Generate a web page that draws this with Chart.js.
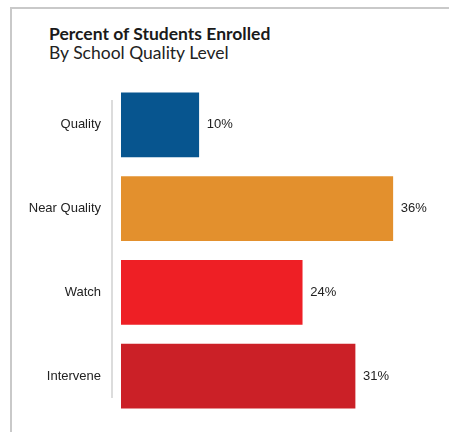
<!DOCTYPE html>
<html lang="en">
<head>
<meta charset="UTF-8">
<title>Percent of Students Enrolled</title>
<script src="https://cdn.jsdelivr.net/npm/chart.js"></script>
<style>
    body { margin: 0; background: #fff; }
    #box {
        position: absolute; left: 10px; top: 7px;
        width: 439px; height: 425px; box-sizing: border-box;
        border-top: 2px solid #c9c9c9; border-left: 2px solid #c9c9c9;
    }
    .ttl {
        position: absolute; left: 37px; margin: 0;
        font-family: Lato, sans-serif; font-size: 17.5px; line-height: 1.2;
        white-space: nowrap;
    }
    #t1 { top: 14px; font-weight: bold; color: #1a1a1a; }
    #t2 { top: 33px; font-weight: normal; color: #222; }
    #wrap { position: absolute; left: 0; top: 60px; width: 437px; height: 363px; }
</style>
</head>
<body>
<div id="box">
    <div class="ttl" id="t1">Percent of Students Enrolled</div>
    <div class="ttl" id="t2">By School Quality Level</div>
    <div id="wrap"><canvas id="qualityChart"></canvas></div>
</div>
<script>
    const levels = ['Quality', 'Near Quality', 'Watch', 'Intervene'];
    const percents = [10.3, 36, 24, 31];
    const barColors = ['#07558f', '#e3902d', '#ee1f25', '#cb2027'];

    // little gray axis line left of the bars
    const axisLine = {
        id: 'axisLine',
        beforeDatasetsDraw(chart) {
            const { ctx, chartArea } = chart;
            ctx.save();
            ctx.strokeStyle = '#dcdcdc';
            ctx.lineWidth = 2;
            ctx.beginPath();
            ctx.moveTo(chartArea.left - 9, chartArea.top + 17);
            ctx.lineTo(chartArea.left - 9, chartArea.bottom - 20);
            ctx.stroke();
            ctx.restore();
        }
    };

    // percent labels at the end of each bar
    const valueLabels = {
        id: 'valueLabels',
        afterDatasetsDraw(chart) {
            const { ctx } = chart;
            const meta = chart.getDatasetMeta(0);
            ctx.save();
            ctx.font = '13px "Liberation Sans", Arial, sans-serif';
            ctx.fillStyle = '#222';
            ctx.textBaseline = 'middle';
            meta.data.forEach((bar, i) => {
                ctx.fillText(Math.round(percents[i]) + '%', bar.x + 8, bar.y);
            });
            ctx.restore();
        }
    };

    new Chart(document.getElementById('qualityChart'), {
        type: 'bar',
        data: {
            labels: levels,
            datasets: [{
                data: percents,
                backgroundColor: barColors,
                barThickness: 64
            }]
        },
        options: {
            indexAxis: 'y',
            responsive: true,
            maintainAspectRatio: false,
            animation: false,
            layout: { padding: { left: 10, right: 26, top: 14, bottom: 14 } },
            plugins: {
                legend: { display: false },
                tooltip: { enabled: false }
            },
            scales: {
                x: {
                    display: false,
                    min: 0,
                    max: 40
                },
                y: {
                    grid: { display: false, drawTicks: false },
                    border: { display: false },
                    ticks: {
                        color: '#222',
                        padding: 20,
                        font: { family: '"Liberation Sans", Arial, sans-serif', size: 13 }
                    },
                    afterFit(scale) {
                        scale.width = 99;
                        scale.paddingTop = 0;
                        scale.paddingBottom = 0;
                    }
                }
            }
        },
        plugins: [axisLine, valueLabels]
    });
</script>
</body>
</html>
